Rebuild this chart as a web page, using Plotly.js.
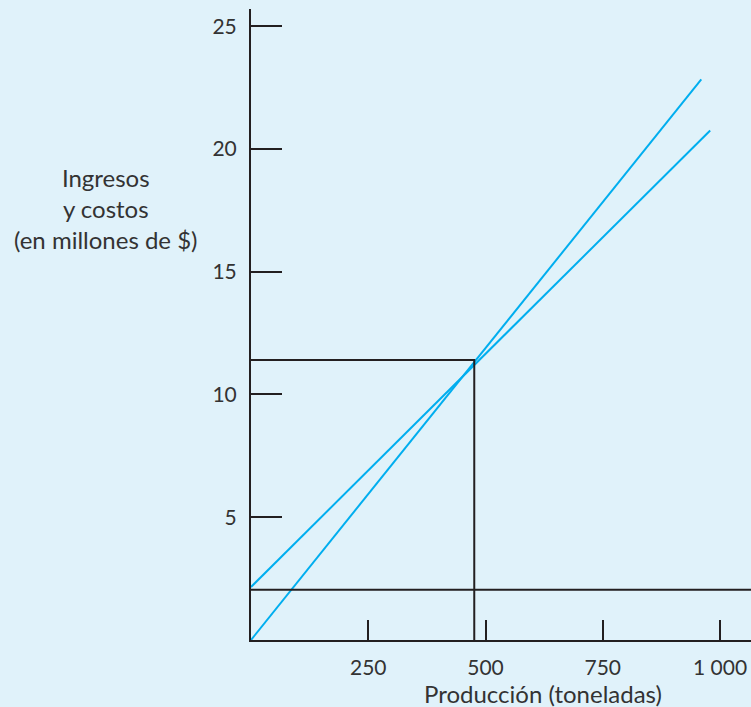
<!DOCTYPE html>
<html>
<head>
<meta charset="utf-8">
<script src="https://cdn.plot.ly/plotly-3.0.1.min.js"></script>
<style>html,body{margin:0;padding:0;background:#e0f2fa;}</style>
</head>
<body>
<div id="chart" style="width:751px;height:707px;"></div>
<script>
// Data
const revenueX = [0, 960];
const revenueY = [0, 22.83];
const costX = [0, 979];
const costY = [2.16, 20.75];
const fixedCost = 2.05;
const breakEvenX = 476;
const breakEvenY = 11.4;
const xTickVals = [250, 500, 750, 1000];
const xTickText = ['250', '500', '750', '1 000'];
const yTickVals = [5, 10, 15, 20, 25];
const yTickText = ['5', '10', '15', '20', '25'];
const xMax = 1066;
const yMax = 25.7;

const blue = '#00aeef';
const dark = '#231f20';

const traces = [
  {x: revenueX, y: revenueY, mode: 'lines', line: {color: blue, width: 2}, hoverinfo: 'skip'},
  {x: costX, y: costY, mode: 'lines', line: {color: blue, width: 2}, hoverinfo: 'skip'},
  {x: [0, xMax], y: [fixedCost, fixedCost], mode: 'lines', line: {color: dark, width: 2}, hoverinfo: 'skip'},
  {x: [0, breakEvenX, breakEvenX], y: [breakEvenY, breakEvenY, 0], mode: 'lines', line: {color: dark, width: 2}, hoverinfo: 'skip'}
];

const tickFont = {family: 'Lato, "Open Sans", sans-serif', size: 21, color: '#333333'};
const titleFont = {family: 'Lato, "Open Sans", sans-serif', size: 24, color: '#333333'};

const plotW = 751 - 251, plotH = 707 - 9 - 67;
function px2paperX(px) { return (px - 251) / plotW; }
function px2paperY(py) { return (707 - 67 - py) / plotH; }

const layout = {
  width: 751, height: 707,
  margin: {l: 251, r: 0, t: 9, b: 67},
  paper_bgcolor: '#e0f2fa',
  plot_bgcolor: '#e0f2fa',
  showlegend: false,
  font: tickFont,
  xaxis: {
    range: [0, xMax],
    showgrid: false, zeroline: false,
    showline: true, linecolor: dark, linewidth: 2,
    ticks: 'inside', ticklen: 20, tickwidth: 2, tickcolor: dark,
    tickvals: xTickVals, ticktext: xTickText,
    ticklabelstandoff: 8,
    tickfont: tickFont,
    fixedrange: true
  },
  yaxis: {
    range: [0, yMax],
    showgrid: false, zeroline: false,
    showline: true, linecolor: dark, linewidth: 2,
    ticks: 'inside', ticklen: 31, tickwidth: 2, tickcolor: dark,
    tickvals: yTickVals, ticktext: yTickText,
    ticklabelstandoff: 8,
    tickfont: tickFont,
    fixedrange: true
  },
  annotations: [
    {text: 'Producción (toneladas)', xref: 'paper', yref: 'paper',
     x: px2paperX(542.5), y: px2paperY(693), xanchor: 'center', yanchor: 'middle',
     showarrow: false, font: titleFont},
    {text: 'Ingresos<br>y costos<br>(en millones de $)', xref: 'paper', yref: 'paper',
     x: px2paperX(106), y: px2paperY(208), xanchor: 'center', yanchor: 'middle',
     showarrow: false, font: titleFont, align: 'center'}
  ]
};

Plotly.newPlot('chart', traces, layout, {displayModeBar: false, staticPlot: true});
</script>
</body>
</html>
